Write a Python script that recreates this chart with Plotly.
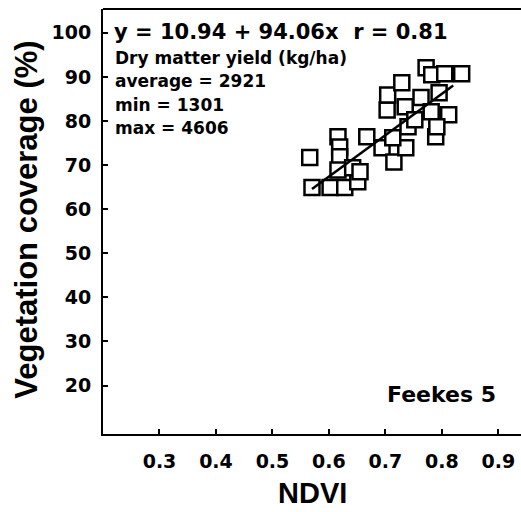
import plotly.graph_objects as go

# NDVI vs. vegetation coverage at Feekes 5
ndvi = [0.566, 0.570, 0.602, 0.628, 0.651, 0.616, 0.619, 0.619, 0.616, 0.642,
        0.667, 0.694, 0.703, 0.715, 0.736, 0.713, 0.740, 0.735, 0.704, 0.729,
        0.763, 0.772, 0.782, 0.805, 0.835, 0.795, 0.781, 0.812, 0.789, 0.791,
        0.655, 0.752]
coverage = [71.7, 64.9, 64.9, 64.9, 66.2, 76.4, 74.1, 71.9, 68.9, 69.4,
            76.4, 73.9, 82.5, 70.7, 73.9, 76.2, 78.7, 83.2, 85.9, 88.7,
            85.3, 92.1, 90.5, 90.7, 90.7, 86.4, 82.1, 81.4, 76.4, 78.7,
            68.5, 80.3]

# linear fit reported on the chart
intercept = 10.94
slope = 94.06
r_value = 0.81
fit_x = [0.57, 0.82]
fit_y = [intercept + slope * v for v in fit_x]

x_ticks = [0.3, 0.4, 0.5, 0.6, 0.7, 0.8, 0.9]
y_ticks = [20, 30, 40, 50, 60, 70, 80, 90, 100]

yield_avg = 2921
yield_min = 1301
yield_max = 4606

FONT = "DejaVu Sans"
TITLE_FONT = "Liberation Sans, Arial"

fig = go.Figure()
fig.add_trace(go.Scatter(
    x=ndvi, y=coverage, mode="markers",
    marker=dict(symbol="square", size=15, color="white",
                line=dict(color="black", width=2.5)),
    showlegend=False,
))
fig.add_trace(go.Scatter(
    x=fit_x, y=fit_y, mode="lines",
    line=dict(color="black", width=2.5),
    showlegend=False,
))

axis_common = dict(
    showgrid=False, zeroline=False, showline=True, linecolor="black",
    linewidth=2, ticks="inside", ticklen=5, tickwidth=1.5, tickcolor="black",
    tickfont=dict(family=FONT, size=19, color="black", weight="bold"),
)
fig.update_xaxes(range=[0.2, 0.94], tickvals=x_ticks,
                 ticktext=[f"{v:.1f}" for v in x_ticks],
                 ticklabelstandoff=9, **axis_common)
fig.update_yaxes(range=[9, 105.4], tickvals=y_ticks,
                 ticklabelstandoff=6, **axis_common)

# top frame line
fig.add_shape(type="line", xref="paper", yref="paper", x0=0, x1=1, y0=1, y1=1,
              line=dict(color="black", width=2))

def note(text, x, y, size, xanchor="left", angle=0, family=FONT):
    fig.add_annotation(text=text, xref="paper", yref="paper", x=x, y=y,
                       xanchor=xanchor, yanchor="middle", showarrow=False,
                       textangle=angle,
                       font=dict(family=family, size=size, color="black",
                                 weight="bold"))

note(f"y = {intercept} + {slope}x  r = {r_value}", 0.0215, 0.946, 21)
note("Dry matter yield (kg/ha)", 0.024, 0.885, 17)
note(f"average = {yield_avg}", 0.024, 0.831, 17)
note(f"min = {yield_min}", 0.024, 0.774, 17)
note(f"max = {yield_max}", 0.024, 0.720, 17)
note("Feekes 5", 0.945, 0.094, 22, xanchor="right")
note("NDVI", 0.5, -0.139, 29, xanchor="center", family=TITLE_FONT)
note("Vegetation coverage (%)", -0.182, 0.504, 31, xanchor="center",
     angle=-90, family=TITLE_FONT)

fig.update_layout(
    width=521, height=512,
    margin=dict(l=103, r=0, t=9, b=78),
    paper_bgcolor="white", plot_bgcolor="white",
)

fig.write_html("out.html")
